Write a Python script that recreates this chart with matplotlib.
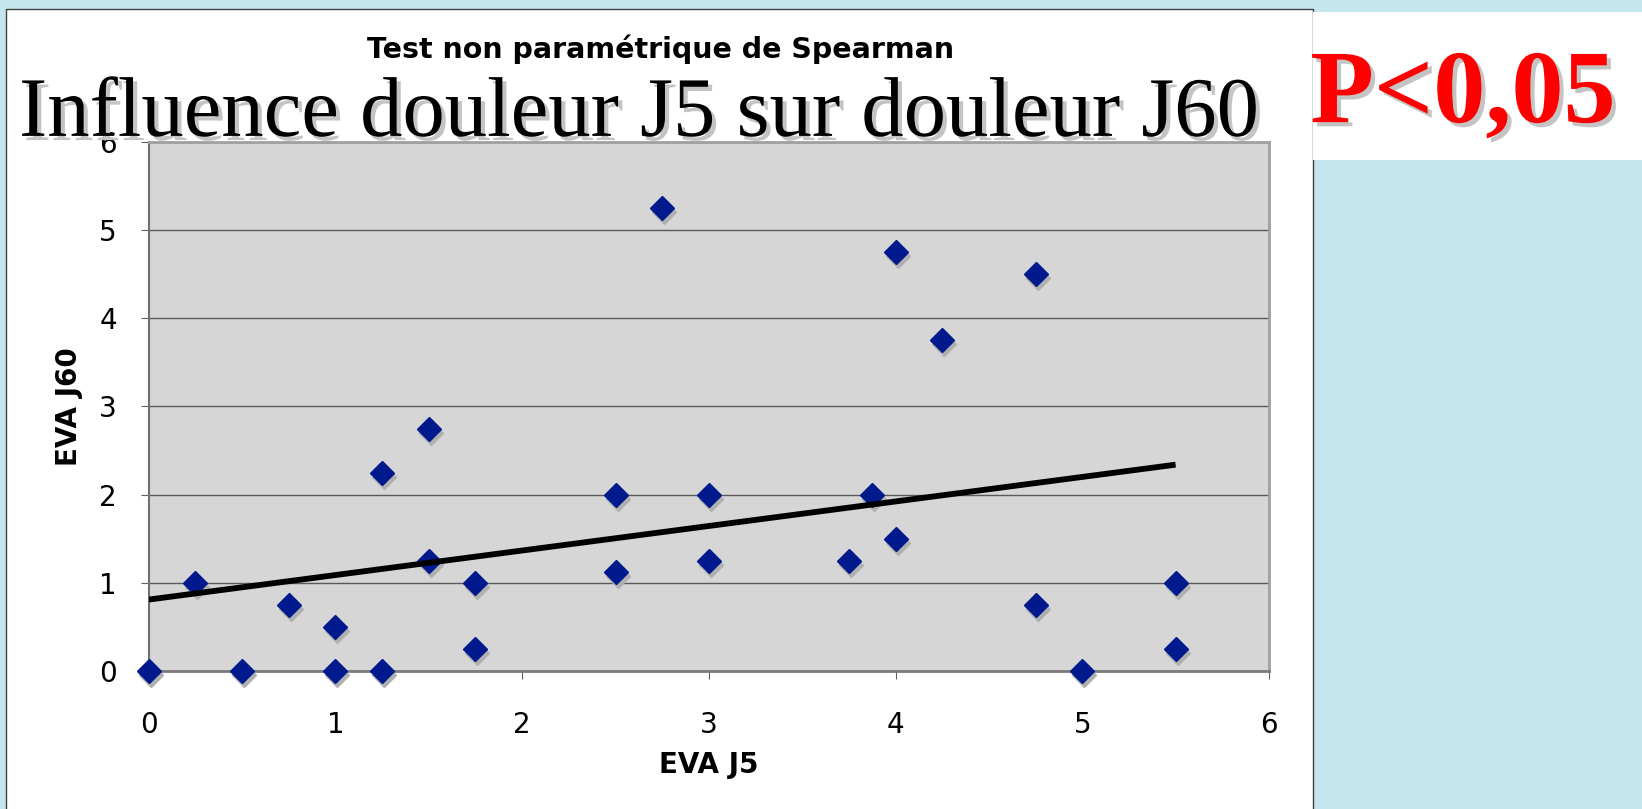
import numpy as np
import matplotlib.pyplot as plt
import matplotlib.patheffects as pe
from matplotlib.patches import Rectangle
from matplotlib.transforms import offset_copy

# Données
eva_j5 = [0, 0.25, 0.5, 0.75, 1, 1, 1.25, 1.25, 1.5, 1.5, 1.75, 1.75, 2.5, 2.5,
          2.75, 3, 3, 3.75, 3.875, 4, 4, 4.25, 4.75, 4.75, 5, 5.5, 5.5]
eva_j60 = [0, 1, 0, 0.75, 0.5, 0, 2.25, 0, 2.75, 1.25, 1, 0.25, 2, 1.125,
           5.25, 2, 1.25, 1.25, 2, 4.75, 1.5, 3.75, 4.5, 0.75, 0, 1, 0.25]
trend_x = [0, 5.5]
trend_y = [0.81, 2.34]
ticks = [0, 1, 2, 3, 4, 5, 6]

fig = plt.figure(figsize=(16.42, 8.09), dpi=100)
fig.patch.set_facecolor('#c5e6ef')

# panneau blanc du graphique et encadré P
fig.patches.append(Rectangle((0.0037, -0.01), 0.7959, 0.999, transform=fig.transFigure,
                             facecolor='white', edgecolor='#404040', lw=1, zorder=0))
fig.patches.append(Rectangle((0.7996, 0.802), 0.21, 0.183, transform=fig.transFigure,
                             facecolor='white', edgecolor='none', zorder=1))

ax = fig.add_axes([0.0906, 0.1706, 0.6822, 0.6539], zorder=2)
ax.set_facecolor('#d6d6d6')
ax.set_xlim(0, 6)
ax.set_ylim(0, 6)
ax.set_xticks(ticks)
ax.set_yticks(ticks)
ax.grid(axis='y', color='#5a5a5a', lw=1)
ax.set_axisbelow(True)

for s in ['top', 'right']:
    ax.spines[s].set_color('#a0a0a0')
    ax.spines[s].set_linewidth(2)
ax.spines['left'].set_color('#707070')
ax.spines['left'].set_linewidth(1.5)
ax.spines['bottom'].set_color('#7a7a7a')
ax.spines['bottom'].set_linewidth(2)

ax.tick_params(axis='both', direction='out', length=6, color='#606060',
               labelsize=20)
ax.tick_params(axis='x', pad=23)
ax.tick_params(axis='y', pad=17)

# ombre des points puis points
shadow = offset_copy(ax.transData, fig=fig, x=2, y=-4, units='dots')
ax.plot(eva_j5, eva_j60, 'D', ms=12, color='#b0b0b0', transform=shadow,
        clip_on=False, zorder=3)
ax.plot(eva_j5, eva_j60, 'D', ms=12, color='#00198c', mec='#00198c',
        clip_on=False, zorder=4)

ax.plot(trend_x, trend_y, color='black', lw=4.2, solid_capstyle='butt', zorder=5)

ax.set_xlabel('EVA J5', fontsize=20, fontweight='bold', va='center')
ax.xaxis.set_label_coords(0.5, -0.178)
ax.set_ylabel('EVA J60', fontsize=20, fontweight='bold', va='center', ha='center')
ax.yaxis.set_label_coords(-0.0714, 0.5)

fig.text(0.402, 0.939, 'Test non paramétrique de Spearman', fontsize=20.5,
         fontweight='bold', ha='center', va='center', zorder=10)

shade = [pe.SimplePatchShadow(offset=(3, -3), shadow_rgbFace='#c4c4c4', alpha=1),
         pe.Normal()]
fig.text(0.0116, 0.832, 'Influence douleur J5 sur douleur J60',
         family='Liberation Serif', fontsize=61, ha='left', va='baseline',
         path_effects=shade, zorder=10)
fig.text(0.891, 0.849, 'P<0,05', family='Liberation Serif', fontweight='bold',
         fontsize=75, color='#ff0000', ha='center', va='baseline',
         path_effects=shade, zorder=10)

fig.savefig('out.png', dpi=100, facecolor=fig.get_facecolor())
